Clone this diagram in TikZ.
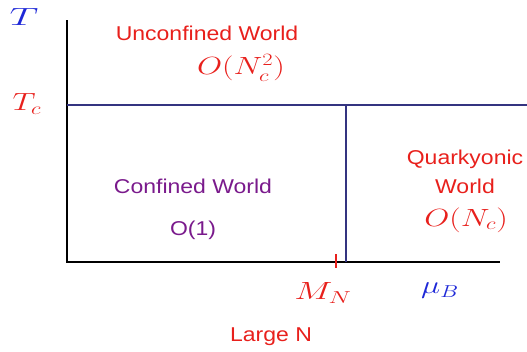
\documentclass[tikz,border=0pt]{standalone}
\usepackage{amsmath}
\usepackage[no-math]{fontspec}
\setmainfont{Liberation Sans}
\usepackage{xcolor}
\usepackage{tikz}
\usetikzlibrary{calc}
\definecolor{worldred}{RGB}{232,32,28}
\definecolor{worldpurple}{RGB}{122,26,140}
\definecolor{axisblue}{RGB}{30,40,215}
\definecolor{linenavy}{RGB}{52,52,128}
\tikzset{
  world/.style={font=\fontsize{20}{29}\selectfont, xscale=1.15, transform shape, inner sep=0pt},
  mathlab/.style={font=\fontsize{25}{30}\selectfont, xscale=1.3, transform shape, inner sep=0pt},
}

\begin{document}
\begin{tikzpicture}[x=1pt, y=-1pt, >=stealth]
    \useasboundingbox (0,0) rectangle (527,351);
    % axes T and mu_B
    \coordinate (ttop) at (67,20);
    \coordinate (origin) at (67,262);
    \coordinate (muend) at (500,262);
    \draw[line width=2.6pt] (ttop) -- (origin) -- (muend);
    % deconfinement line at T_c
    \coordinate (tcleft) at (67,105);
    \coordinate (tcright) at (527,105);
    \draw[linenavy, line width=2.2pt] (tcleft) -- (tcright);
    % quarkyonic boundary at mu_B ~ M_N
    \coordinate (qtop) at (346,105);
    \coordinate (qbot) at (346,262);
    \draw[linenavy, line width=2pt] (qtop) -- (qbot);
    % tick for M_N
    \coordinate (mtick) at (336,261);
    \draw[worldred, line width=2pt] ($(mtick)+(0,-7)$) -- ($(mtick)+(0,7)$);
    % axis labels
    \node[mathlab, axisblue, xscale=1.25] (tlab) at (24,17) {$T$};
    \node[mathlab, worldred] (tclab) at (27,104) {$T_c$};
    \node[mathlab, worldred, xscale=1.12] (mnlab) at (323,293) {$M_N$};
    \node[mathlab, axisblue] (mulab) at (440,291) {$\mu_B$};
    % regions
    \node[world, worldred] (unconf) at (207,33) {Unconfined World};
    \node[mathlab, worldred] (unconford) at (241,68) {$O(N_c^2)$};
    \node[world, worldpurple] (conf) at (193,186) {Confined World};
    \node[world, worldpurple] (conford) at (193,230) {O(1)};
    \node[world, worldred, align=center] (quark) at (465,172) {Quarkyonic\\World};
    \node[mathlab, worldred] (quarkord) at (466,220) {$O(N_c)$};
    \node[world, worldred] (largen) at (271,337) {Large N};
\end{tikzpicture}
\end{document}
